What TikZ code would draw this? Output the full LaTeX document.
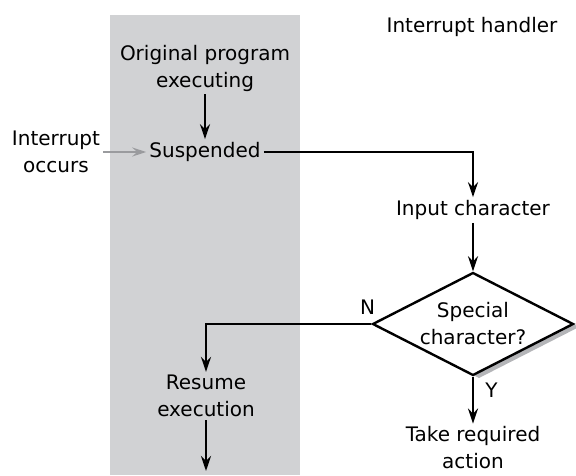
\documentclass[tikz,border=0pt]{standalone}
\usepackage{fontspec}
\setmainfont{DejaVu Sans}
\usepackage{xcolor}
\definecolor{CPanel}{HTML}{D1D2D4}
\definecolor{CShadow}{HTML}{B4B5B8}
\definecolor{CGrayArrow}{HTML}{9A9B9E}
\usepackage{tikz}
\usetikzlibrary{arrows.meta,positioning,shapes.geometric}
\tikzstyle{txtNode}=[inner sep=3pt, align=center, font=\fontsize{20}{27}\selectfont]
\tikzstyle{decNode}=[diamond, aspect=2, draw=black, fill=white, line width=2.4pt, inner sep=0pt,
  minimum width=201pt, minimum height=103pt, align=center, font=\fontsize{20}{27}\selectfont]
\tikzstyle{arr}=[-{Stealth[length=15pt,width=10pt,inset=5pt]}, line width=2.5pt, draw=black]
\tikzstyle{grayArr}=[-{Stealth[length=14pt,width=9pt,inset=5pt]}, line width=2.2pt, draw=CGrayArrow]

\begin{document}
\begin{tikzpicture}[x=1pt,y=-1pt]
\useasboundingbox (0,0) rectangle (576,475);
\fill[CPanel] (110,15) rectangle (300,475);

\node[txtNode] (orig) at (205,68) {Original program\\executing};
\node[txtNode] (susp) at (205,152) {Suspended};
\node[txtNode] (intr) at (56,152) {Interrupt\\occurs};
\node[txtNode] (handler) at (472,27) {Interrupt handler};
\node[txtNode] (input) at (473,210) {Input character};
\node[decNode, draw=none, fill=CShadow] (decshadow) at (479,327) {};
\node[decNode] (special) at (473,324) {Special\\character?};
\node[txtNode] (resume) at (206,396) {Resume\\execution};
\node[txtNode] (action) at (473,448) {Take required\\action};
\coordinate (resout) at (206,471);

\draw[arr] (orig) -- (susp);
\draw[grayArr] (intr) -- (susp);
\draw[arr] (susp) -| (input);
\draw[arr] (input) -- (special);
\draw[arr] (special.west)
  node[txtNode, anchor=south east, inner sep=0pt, xshift=5pt, yshift=8pt] {N} -| (resume);
\draw[arr] (special.south)
  node[txtNode, anchor=north west, inner sep=0pt, xshift=11pt, yshift=-5pt] {Y} -- (action);
\draw[arr] (resume) -- (resout);
\end{tikzpicture}
\end{document}
